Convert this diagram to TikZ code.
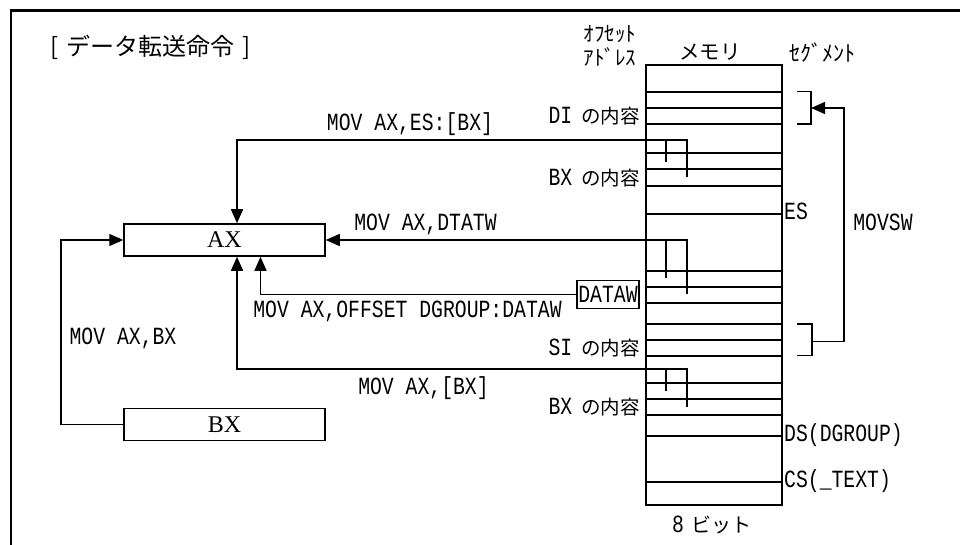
\documentclass[tikz,border=0pt]{standalone}
\usepackage{fontspec}
\setmainfont{Liberation Serif}
\newfontfamily\monolab[FakeStretch=0.8]{Liberation Mono}
\newfontfamily\jpfont{Noto Sans CJK JP}
\usetikzlibrary{arrows.meta}
\tikzset{
  lab/.style={font=\monolab\fontsize{24.7}{26}\selectfont, inner sep=0pt},
  jlab/.style={font=\jpfont\fontsize{19}{22}\selectfont, inner sep=0pt},
  reg/.style={draw, line width=1.5pt, minimum width=201pt, minimum height=32pt, inner sep=0pt,
    font=\fontsize{24}{26}\selectfont},
  conn/.style={line width=1.4pt},
  arr/.style={line width=1.4pt, -{Triangle[length=14pt,width=12pt]}},
  memline/.style={line width=1.9pt},
}
\newcommand{\memlab}[2]{{\monolab\fontsize{24.7}{26}\selectfont #1}\hspace{9pt}{\jpfont\fontsize{19.5}{22}\selectfont #2}}
\begin{document}
\begin{tikzpicture}[x=1pt,y=-1pt]
\useasboundingbox (0,0) rectangle (960,545);
% frame
\draw[line width=2.5pt] (11,545) -- (11,10.5) -- (960,10.5);
% title
\node[jlab, font=\jpfont\fontsize{24}{26}\selectfont] (title) at (151,47) {[\hspace{8pt}データ転送命令\hspace{8pt}]};
% headers
\node[jlab, font=\jpfont\fontsize{21}{22}\selectfont] (h1) at (610,34) {ｵﾌｾｯﾄ};
\node[jlab, font=\jpfont\fontsize{21}{22}\selectfont] (h2) at (610,57) {ｱﾄﾞﾚｽ};
\node[jlab, font=\jpfont\fontsize{20.5}{22}\selectfont] (h3) at (710,52) {メモリ};
\node[jlab, font=\jpfont\fontsize{22}{22}\selectfont, anchor=west] (h4) at (789,53) {ｾｸﾞﾒﾝﾄ};
% memory
\node[draw, line width=2pt, minimum width=136pt, minimum height=440pt, inner sep=0pt] (mem) at (713.7,285) {};
\foreach \yy in {91.7,107.7,124,153.3,169.3,185.7,214.3,270.7,286.7,302.7,324,340,355.7,382.7,399,415,436,481.7}{
  \draw[memline] (mem.west |- 0,\yy) -- (mem.east |- 0,\yy);
}
\node[jlab, font=\jpfont\fontsize{20}{22}\selectfont] (bits) at (712,525) {{\monolab\fontsize{24.7}{26}\selectfont 8}\hspace{8pt}ビット};
% memory left labels
\node[anchor=east, inner sep=0pt] (di) at (640,116) {\memlab{DI}{の内容}};
\node[anchor=east, inner sep=0pt] (bx1) at (640,178) {\memlab{BX}{の内容}};
\node[anchor=east, inner sep=0pt] (si) at (640,348) {\memlab{SI}{の内容}};
\node[anchor=east, inner sep=0pt] (bx2) at (640,407) {\memlab{BX}{の内容}};
% segment labels
\node[lab, anchor=west] (es) at (784,211) {ES};
\node[lab, anchor=west] (ds) at (784,435) {DS(DGROUP)};
\node[lab, anchor=west] (cs) at (784,481) {CS(\_TEXT)};
% registers
\node[reg] (AX) at (224.5,240) {AX};
\node[reg] (BX) at (224.5,424.5) {BX};
% DATAW box
\node[draw, line width=1.3pt, lab, minimum width=62pt, minimum height=28pt] (dataw) at (608,294.5) {DATAW};
% pointer coordinates
\coordinate (p1) at (687,177);
\coordinate (p1t) at (687,140);
\coordinate (p2) at (687,294);
\coordinate (p2t) at (687,240);
\coordinate (p4) at (687,407);
\coordinate (p4t) at (687,369);
% MOV AX,ES:[BX]
\draw[arr] (p1) -- (p1t) -| ([xshift=12.5pt]AX.north);
\draw[conn] (666,140) -- (666,162);
\node[lab] (l1) at (410,124) {MOV AX,ES:[BX]};
% MOV AX,DTATW
\draw[arr] (p2) -- (p2t) -- (AX.east);
\draw[conn] (666,240) -- (666,278);
\node[lab] (l2) at (425.5,224) {MOV AX,DTATW};
% MOV AX,OFFSET DGROUP:DATAW
\draw[arr] (dataw.west) -| ([xshift=36pt]AX.south);
\node[lab] (l3) at (407.5,311) {MOV AX,OFFSET DGROUP:DATAW};
% MOV AX,[BX]
\draw[arr] (p4) -- (p4t) -| ([xshift=12.5pt]AX.south);
\draw[conn] (666,369) -- (666,391);
\node[lab] (l4) at (423.5,388) {MOV AX,[BX]};
% MOV AX,BX
\coordinate (lb) at (61,424.5);
\draw[arr] (BX.west) -- (lb) |- (AX.west);
\node[lab] (l5) at (123,338) {MOV AX,BX};
% MOVSW brackets
\draw[conn] (797,91.7) -- (811,91.7) -- (811,124) -- (797,124);
\draw[conn] (797,324) -- (812,324) -- (812,355.7) -- (797,355.7);
\coordinate (mv1) at (812,341.7);
\coordinate (mv2) at (844,341.7);
\coordinate (mv3) at (844,108);
\coordinate (mv4) at (811,108);
\draw[arr] (mv1) -- (mv2) -- (mv3) -- (mv4);
\node[lab] (l6) at (883,222) {MOVSW};
\end{tikzpicture}
\end{document}
